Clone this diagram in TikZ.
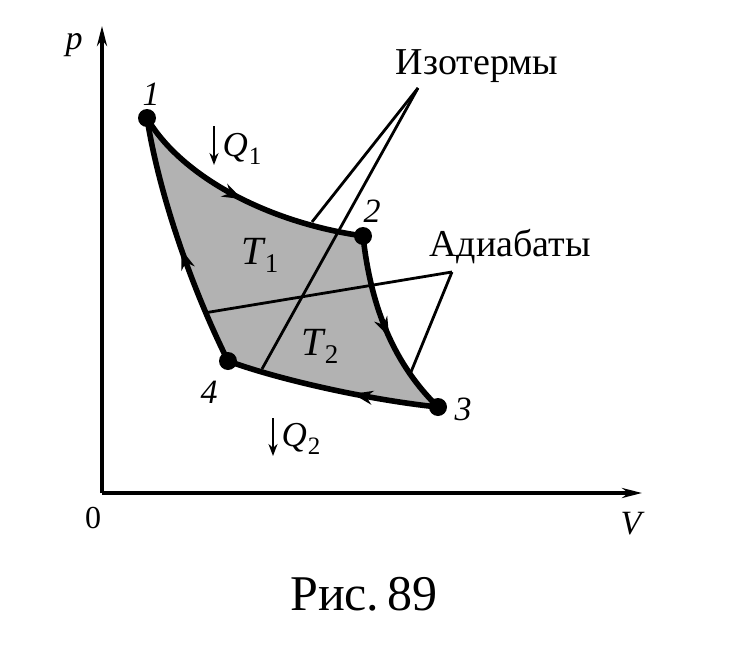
\documentclass[tikz,border=0pt]{standalone}
\usepackage{fontspec}
\setmainfont{Liberation Serif}
\usetikzlibrary{decorations.markings,arrows.meta}
\begin{document}
\begin{tikzpicture}[x=1pt,y=-1pt,
  cyc/.style={line width=5.6pt},
  lead/.style={line width=2.8pt},
  axis/.style={line width=3.4pt,-{Stealth[length=20pt,width=10pt]}},
  midarrow/.style={postaction={decorate},decoration={markings,mark=at position #1 with {\arrow{Stealth[length=20pt,width=14pt]}}}},
  dot/.style={circle,fill=black,inner sep=0pt,minimum size=18pt},
  numlab/.style={font=\fontsize{34}{34}\selectfont\itshape},
  wordlab/.style={font=\fontsize{38}{38}\selectfont},
  tlab/.style={font=\fontsize{40}{40}\selectfont\itshape},
  qlab/.style={font=\fontsize{35}{35}\selectfont\itshape}]
\useasboundingbox (0,0) rectangle (756,648);
% points
\coordinate (P1) at (147,118);
\coordinate (P2) at (363,236);
\coordinate (P3) at (438,407);
\coordinate (P4) at (228,361);
\coordinate (O) at (102,493);
\coordinate (Ytop) at (102,26);
\coordinate (Xend) at (642,493);
% shaded cycle
\fill[black!30] (P1) .. controls (180,175) and (265,222) .. (P2)
  .. controls (370,300) and (390,360) .. (P3)
  .. controls (370,400) and (280,380) .. (P4)
  .. controls (195,295) and (160,200) .. (P1) -- cycle;
% axes
\draw[axis] (O) -- (Ytop);
\draw[axis] (O) -- (Xend);
% intermediate isotherm and adiabat with leaders
\coordinate (IsoLow) at (262,369);
\coordinate (IsoTop) at (418,88);
\coordinate (IsoUp) at (312,222);
\coordinate (AdLeft) at (204,313);
\coordinate (AdApex) at (452,272);
\coordinate (AdRight) at (411,372);
\draw[lead] (IsoLow) -- (IsoTop);
\draw[lead] (IsoUp) -- (IsoTop);
\draw[lead] (AdLeft) -- (AdApex);
\draw[lead] (AdRight) -- (AdApex);
% cycle
\draw[cyc,midarrow=0.5] (P1) .. controls (180,175) and (265,222) .. (P2);
\draw[cyc,midarrow=0.55] (P2) .. controls (370,300) and (390,360) .. (P3);
\draw[cyc,midarrow=0.4] (P3) .. controls (370,400) and (280,380) .. (P4);
\draw[cyc,midarrow=0.47] (P4) .. controls (195,295) and (160,200) .. (P1);
% dots
\node[dot] (D1) at (P1) {};
\node[dot] (D2) at (P2) {};
\node[dot] (D3) at (P3) {};
\node[dot] (D4) at (P4) {};
% labels
\node[numlab] (L1) at (151,94) {1};
\node[numlab] (L2) at (372,211) {2};
\node[numlab] (L3) at (463,409) {3};
\node[numlab] (L4) at (209,392) {4};
\node[numlab] (Lp) at (74,45) {p};
\node[numlab] (LV) at (631,524) {V};
\node[font=\fontsize{32}{32}\selectfont] (L0) at (93,518) {0};
\node[tlab] (T1) at (260,255) {T\kern1pt\raisebox{-8pt}{\fontsize{27}{27}\selectfont\upshape 1}};
\node[tlab] (T2) at (320,346) {T\kern1pt\raisebox{-8pt}{\fontsize{27}{27}\selectfont\upshape 2}};
% heat arrows
\draw[line width=2.6pt,-{Stealth[length=12pt,width=9pt]}] (214,126) -- (214,165);
\node[qlab,anchor=west] (Q1) at (219,149) {Q\kern1pt\raisebox{-8pt}{\fontsize{25}{25}\selectfont\upshape 1}};
\draw[line width=2.6pt,-{Stealth[length=12pt,width=9pt]}] (273,418) -- (273,456);
\node[qlab,anchor=west] (Q2) at (278,439) {Q\kern1pt\raisebox{-8pt}{\fontsize{25}{25}\selectfont\upshape 2}};
\node[wordlab] (Iso) at (477,66) {Изотермы};
\node[wordlab] (Adi) at (510,247) {Адиабаты};
\node[font=\fontsize{50}{50}\selectfont] (Fig) at (364,594) {Рис.\,89};
\end{tikzpicture}
\end{document}
